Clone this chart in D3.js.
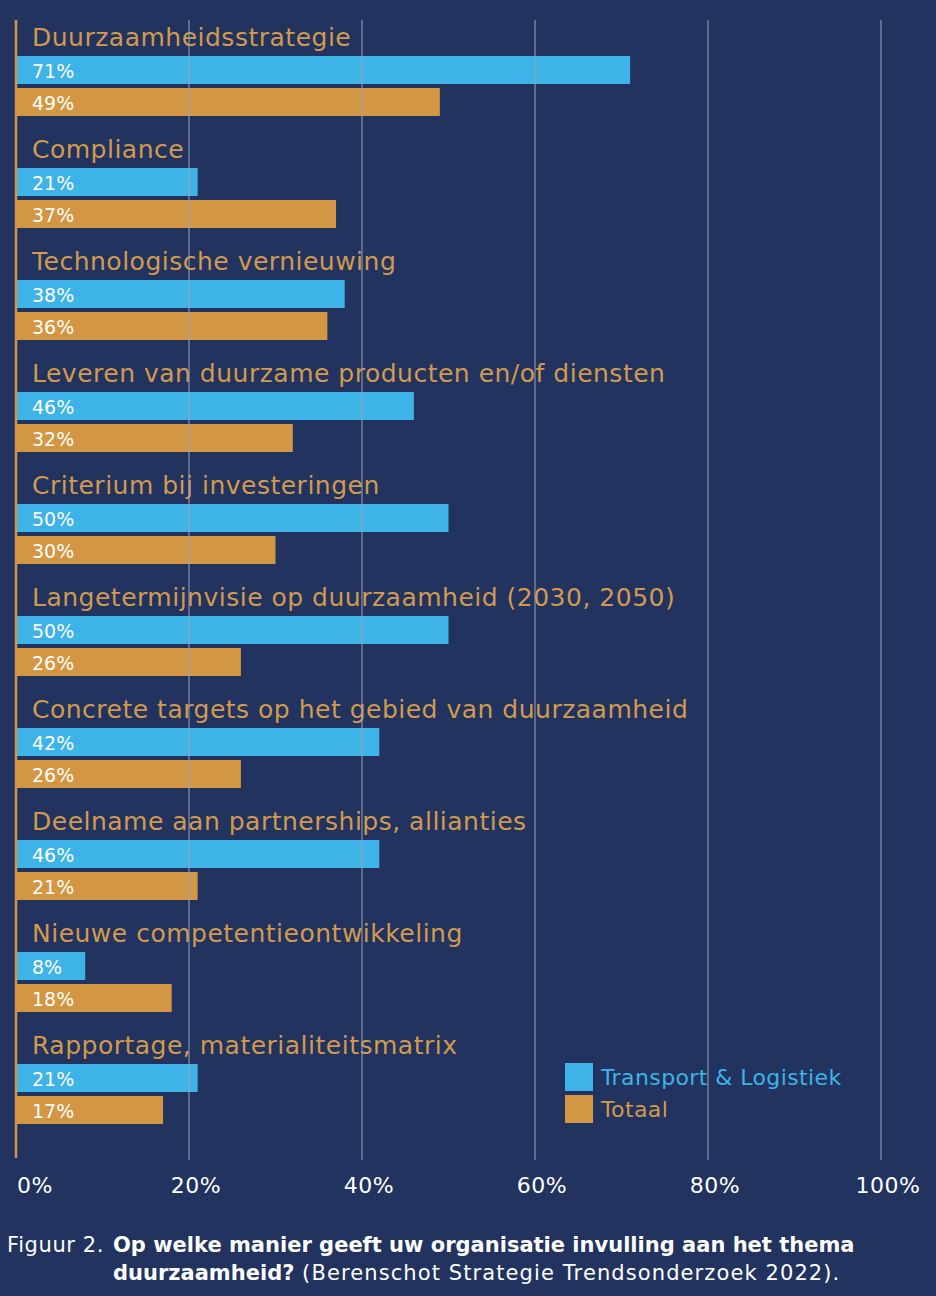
<!DOCTYPE html>
<html>
<head>
<meta charset="utf-8">
<script src="https://cdn.jsdelivr.net/npm/d3@7"></script>
<style>
  html, body { margin: 0; padding: 0; background: #21335e; }
  svg { display: block; font-family: "DejaVu Sans", sans-serif; }
</style>
</head>
<body>
<div id="chart"></div>
<script>
const categories = [
  "Duurzaamheidsstrategie",
  "Compliance",
  "Technologische vernieuwing",
  "Leveren van duurzame producten en/of diensten",
  "Criterium bij investeringen",
  "Langetermijnvisie op duurzaamheid (2030, 2050)",
  "Concrete targets op het gebied van duurzaamheid",
  "Deelname aan partnerships, allianties",
  "Nieuwe competentieontwikkeling",
  "Rapportage, materialiteitsmatrix"
];
// bar lengths as drawn in the picture
const transportValues = [71, 21, 38, 46, 50, 50, 42, 42, 8, 21];
// printed labels (Deelname bar is drawn shorter than its label)
const transportLabels = ["71%", "21%", "38%", "46%", "50%", "50%", "42%", "46%", "8%", "21%"];
const totaalValues = [49, 37, 36, 32, 30, 26, 26, 21, 18, 17];
const tickValues = [0, 20, 40, 60, 80, 100];
const seriesNames = ["Transport & Logistiek", "Totaal"];

const W = 936, H = 1296;
const blue = "#3db3e7", orange = "#d39642", labelOrange = "#d29a4e", grid = "#9aa3b9";

const svg = d3.select("#chart").append("svg")
  .attr("width", W)
  .attr("height", H);

svg.append("rect").attr("width", W).attr("height", H).attr("fill", "#21335e");

const x = d3.scaleLinear().domain([0, 100]).range([16, 881]);
const y = d3.scaleBand().domain(categories).range([20, 1140]).padding(0);

const groups = svg.append("g").selectAll("g")
  .data(categories)
  .enter().append("g")
  .attr("transform", d => `translate(0,${y(d)})`);

// category titles
groups.append("text")
  .attr("x", 32)
  .attr("y", 26)
  .attr("fill", labelOrange)
  .style("font-size", "25px")
  .style("letter-spacing", "0.5px")
  .text(d => d);

// gridlines
svg.append("g").selectAll("line")
  .data(tickValues.slice(1))
  .enter().append("line")
  .attr("x1", d => x(d)).attr("x2", d => x(d))
  .attr("y1", 20).attr("y2", 1160)
  .attr("stroke", grid)
  .attr("stroke-width", 1);

// bars
groups.append("rect")
  .attr("x", x(0))
  .attr("y", 36)
  .attr("height", 28)
  .attr("width", (d, i) => x(transportValues[i]) - x(0))
  .attr("fill", blue);

groups.append("rect")
  .attr("x", x(0))
  .attr("y", 68)
  .attr("height", 28)
  .attr("width", (d, i) => x(totaalValues[i]) - x(0))
  .attr("fill", orange);

groups.append("text")
  .attr("x", 32).attr("y", 58)
  .attr("fill", "#fff")
  .style("font-size", "19px")
  .text((d, i) => transportLabels[i]);

groups.append("text")
  .attr("x", 32).attr("y", 90)
  .attr("fill", "#fff")
  .style("font-size", "19px")
  .text((d, i) => totaalValues[i] + "%");

// vertical axis line
svg.append("line")
  .attr("x1", x(0)).attr("x2", x(0))
  .attr("y1", 20).attr("y2", 1158)
  .attr("stroke", orange)
  .attr("stroke-width", 2.5);

// x tick labels
svg.append("g").selectAll("text")
  .data(tickValues)
  .enter().append("text")
  .attr("x", d => d === 0 ? x(d) + 1 : x(d) + 7)
  .attr("y", 1193)
  .attr("text-anchor", d => d === 0 ? "start" : "middle")
  .attr("fill", "#fff")
  .style("font-size", "22px")
  .style("letter-spacing", "0.5px")
  .text(d => d + "%");

// legend
const legend = svg.append("g").attr("transform", "translate(565,1063)");
legend.selectAll("rect")
  .data(seriesNames)
  .enter().append("rect")
  .attr("x", 0).attr("y", (d, i) => i * 32)
  .attr("width", 28).attr("height", 28)
  .attr("fill", (d, i) => i === 0 ? blue : orange);
legend.selectAll("text")
  .data(seriesNames)
  .enter().append("text")
  .attr("x", 36).attr("y", (d, i) => 22 + i * 32)
  .attr("fill", (d, i) => i === 0 ? blue : labelOrange)
  .style("font-size", "22px")
  .style("letter-spacing", "0.4px")
  .text(d => d);

// caption
const cap = svg.append("text")
  .attr("fill", "#fff")
  .style("font-size", "21px");
const l1 = cap.append("tspan").attr("x", 7).attr("y", 1252);
l1.append("tspan").style("letter-spacing", "0.6px").text("Figuur 2.");
l1.append("tspan").attr("x", 113).style("font-weight", "bold")
  .text("Op welke manier geeft uw organisatie invulling aan het thema");
const l2 = cap.append("tspan").attr("x", 113).attr("y", 1280);
l2.append("tspan").style("font-weight", "bold").text("duurzaamheid?");
l2.append("tspan").style("letter-spacing", "1.1px").text(" (Berenschot Strategie Trendsonderzoek 2022).");
</script>
</body>
</html>
